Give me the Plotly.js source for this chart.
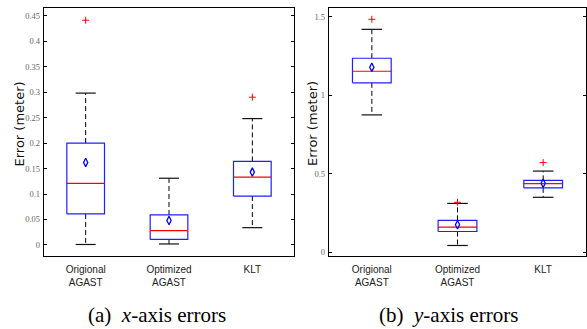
<!DOCTYPE html>
<html>
<head>
<meta charset="utf-8">
<script src="https://cdn.plot.ly/plotly-3.0.1.min.js"></script>
<style>html,body{margin:0;padding:0;background:#fff;}#chart{width:587px;height:329px;}</style>
</head>
<body>
<div id="chart"></div>
<script>
// ---- data ----
const categories = ["Origional<br>AGAST", "Optimized<br>AGAST", "KLT"];

// (a) x-axis errors
const xLower  = [0.001, 0.002, 0.034];
const xQ1     = [0.061, 0.011, 0.096];
const xMedian = [0.121, 0.028, 0.133];
const xQ3     = [0.200, 0.059, 0.164];
const xUpper  = [0.298, 0.131, 0.248];
const xMean   = [0.162, 0.048, 0.143];
const xOutliers = [[0.441], [], [0.290]];

// (b) y-axis errors
const yLower  = [0.875, 0.043, 0.350];
const yQ1     = [1.079, 0.132, 0.410];
const yMedian = [1.153, 0.160, 0.437];
const yQ3     = [1.236, 0.203, 0.458];
const yUpper  = [1.420, 0.311, 0.517];
const yMean   = [1.179, 0.175, 0.439];
const yOutliers = [[1.484], [0.318], [0.571]];

const xTickVals = [0, 0.05, 0.1, 0.15, 0.2, 0.25, 0.3, 0.35, 0.4, 0.45];
const xTickText = ["0", "0.05", "0.1", "0.15", "0.2", "0.25", "0.3", "0.35", "0.4", "0.45"];
const yTickVals = [0, 0.5, 1, 1.5];
const yTickText = ["0", "0.5", "1", "1.5"];

// ---- build traces ----
const BOXW = 0.226, CAPW = 0.12;
function panel(lower, q1, med, q3, upper, mean, outl, xa, ya) {
  const box = {x: [], y: []}, mline = {x: [], y: []}, wh = {x: [], y: []}, cap = {x: [], y: []};
  const ox = [], oy = [];
  for (let i = 0; i < categories.length; i++) {
    box.x.push(i - BOXW, i + BOXW, i + BOXW, i - BOXW, i - BOXW, null);
    box.y.push(q1[i], q1[i], q3[i], q3[i], q1[i], null);
    mline.x.push(i - BOXW, i + BOXW, null);
    mline.y.push(med[i], med[i], null);
    wh.x.push(i, i, null, i, i, null);
    wh.y.push(q3[i], upper[i], null, q1[i], lower[i], null);
    cap.x.push(i - CAPW, i + CAPW, null, i - CAPW, i + CAPW, null);
    cap.y.push(upper[i], upper[i], null, lower[i], lower[i], null);
    outl[i].forEach(v => { ox.push(i); oy.push(v); });
  }
  const base = {xaxis: xa, yaxis: ya, mode: "lines", hoverinfo: "skip", showlegend: false};
  return [
    Object.assign({}, base, {x: wh.x, y: wh.y, line: {color: "#000", width: 1, dash: "5px,3px"}}),
    Object.assign({}, base, {x: cap.x, y: cap.y, line: {color: "#111", width: 1.2}}),
    Object.assign({}, base, {x: box.x, y: box.y, line: {color: "#2020ff", width: 1.2}}),
    Object.assign({}, base, {x: mline.x, y: mline.y, line: {color: "#ff0000", width: 1.2}}),
    {x: categories.map((c, i) => i), y: mean, xaxis: xa, yaxis: ya, mode: "markers", showlegend: false,
     marker: {symbol: "diamond-tall-open", size: 6, color: "#0000ff", line: {width: 1.3, color: "#0000ff"}}},
    {x: ox, y: oy, xaxis: xa, yaxis: ya, mode: "markers", showlegend: false,
     marker: {symbol: "cross-thin-open", size: 5, color: "#ff0000", line: {width: 1, color: "#ff0000"}}}
  ];
}

const data = [].concat(
  panel(xLower, xQ1, xMedian, xQ3, xUpper, xMean, xOutliers, "x", "y"),
  panel(yLower, yQ1, yMedian, yQ3, yUpper, yMean, yOutliers, "x2", "y2")
);

const tickFont = {family: "Liberation Serif, Times New Roman, serif", size: 8.5, color: "#666"};
const catFont = {family: "Liberation Sans, Arial, sans-serif", size: 10, color: "#222"};
const catIdx = categories.map((c, i) => i);

function xAxis(domain, anchor) {
  return {domain: domain, anchor: anchor, range: [-0.5, 2.5], tickvals: catIdx, ticktext: categories,
    ticks: "", showgrid: false, zeroline: false, showline: true, linecolor: "#000", linewidth: 1.3,
    mirror: true, tickfont: catFont, ticklabelstandoff: 4, fixedrange: true};
}
function yAxis(domain, anchor, range, tv, tt) {
  return {domain: domain, anchor: anchor, range: range, tickvals: tv, ticktext: tt,
    ticks: "inside", ticklen: 3, tickcolor: "#000", tickwidth: 1, showgrid: false, zeroline: false,
    showline: true, linecolor: "#000", linewidth: 1.3, mirror: "ticks", tickfont: tickFont,
    ticklabelstandoff: 1, fixedrange: true};
}

const ydom = [(329 - 256) / 329, (329 - 8) / 329];
const titleFont = {family: "DejaVu Sans, sans-serif", size: 13, color: "#111"};
const capFont = {family: "Liberation Serif, Times New Roman, serif", size: 21, color: "#000"};
const layout = {
  width: 587, height: 329,
  margin: {l: 0, r: 0, t: 0, b: 0},
  paper_bgcolor: "#fff", plot_bgcolor: "#fff",
  showlegend: false,
  xaxis: xAxis([44 / 587, 294 / 587], "y"),
  yaxis: yAxis(ydom, "x", [-0.0216, 0.465], xTickVals, xTickText),
  xaxis2: xAxis([329 / 587, 586 / 587], "y2"),
  yaxis2: yAxis(ydom, "x2", [-0.024, 1.556], yTickVals, yTickText),
  annotations: [
    {text: "Error (meter)", textangle: -90, xref: "paper", yref: "paper", x: 18.5 / 587, y: (329 - 124) / 329,
     xanchor: "center", yanchor: "middle", showarrow: false, font: titleFont},
    {text: "Error (meter)", textangle: -90, xref: "paper", yref: "paper", x: 312 / 587, y: (329 - 124) / 329,
     xanchor: "center", yanchor: "middle", showarrow: false, font: titleFont},
    {text: "(a)&nbsp;&nbsp;<i>x</i>-axis errors", xref: "paper", yref: "paper", x: 157 / 587, y: (329 - 315) / 329,
     xanchor: "center", yanchor: "middle", showarrow: false, font: capFont},
    {text: "(b)&nbsp;&nbsp;<i>y</i>-axis errors", xref: "paper", yref: "paper", x: 448 / 587, y: (329 - 315) / 329,
     xanchor: "center", yanchor: "middle", showarrow: false, font: capFont}
  ]
};

Plotly.newPlot("chart", data, layout, {staticPlot: true, displayModeBar: false});
</script>
</body>
</html>
